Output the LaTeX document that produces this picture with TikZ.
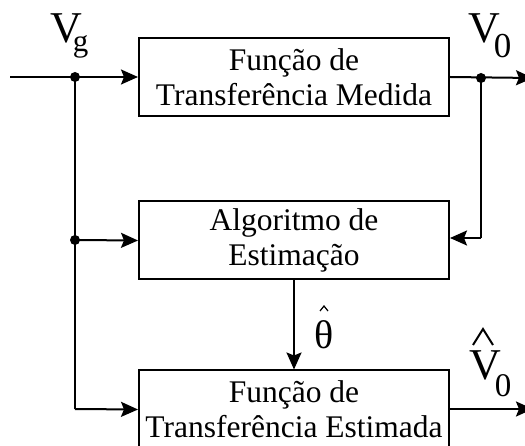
\documentclass[tikz,border=0pt]{standalone}
\usepackage{fontspec}
\setmainfont{Liberation Serif}
\usetikzlibrary{arrows.meta}
\begin{document}
\begin{tikzpicture}[x=1pt,y=-1pt,
  blk/.style={draw,line width=2pt,minimum width=310pt,minimum height=78pt,align=center,inner sep=0pt,
    font=\fontsize{31.5}{35}\selectfont},
  conn/.style={line width=2pt,-{Stealth[length=17pt,width=15pt,inset=3pt]}},
  ln/.style={line width=2pt},
  dot/.style={circle,fill,inner sep=0pt,minimum size=10pt},
  lab/.style={inner sep=0pt,anchor=base west,font=\fontsize{44}{44}\selectfont}]
\useasboundingbox (0,0) rectangle (525,446);
\node[blk] (b1) at (294,77) {Função de\\Transferência Medida};
\node[blk] (b2) at (294,240.5) {Algoritmo de\\Estimação};
\node[blk] (b3) at (294,409.5) {Função de\\Transferência Estimada};
\coordinate (in) at (10,77);
\node[dot] (d1) at (75,77) {};
\node[dot] (d2) at (75,240) {};
\node[dot] (d3) at (481,78) {};
\coordinate (c3) at (75,409);
\coordinate (o1) at (533,78);
\coordinate (o3) at (533,409);
\coordinate (r2) at (481,238);
\draw[conn] (in) -- (b1.west);
\draw[ln] (d1.center) -- (c3);
\draw[conn] (d2.center) -- (b2.west);
\draw[conn] (c3) -- (b3.west);
\draw[conn] (b1.east) -- (o1);
\draw[ln] (d3.center) -- (r2);
\draw[conn] (r2) -- (b2.east |- r2);
\draw[conn] (b3.east |- o3) -- (o3);
\draw[conn] (b2.south) -- (b3.north);
% labels
\node[lab] (vg) at (50,43) {V\kern-9pt\raisebox{-9pt}{\fontsize{31}{31}\selectfont g}};
\node[lab] (v0) at (468,43) {V\kern-6pt\raisebox{-15pt}{\fontsize{35}{35}\selectfont 0}};
\node[lab] (vh) at (469,380) {V\kern-6pt\raisebox{-17pt}{\fontsize{33}{33}\selectfont 0}};
\draw[line width=2pt] (473,345) -- (483,329) -- (493,345);
\node[inner sep=0pt,anchor=base,font=\fontsize{40}{40}\selectfont] (th) at (324,349) {θ};
\draw[line width=1.2pt] (320,311) -- (324,306) -- (328,311);
\end{tikzpicture}
\end{document}
